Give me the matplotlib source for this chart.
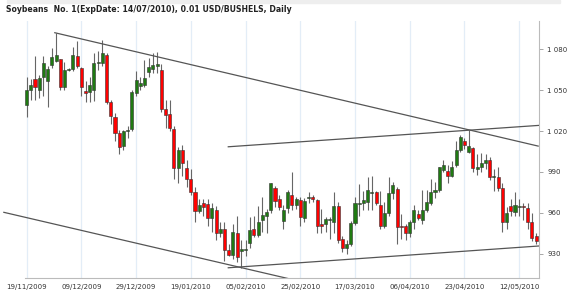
import numpy as np
import matplotlib
matplotlib.use("Agg")
import matplotlib.pyplot as plt
from matplotlib.patches import Rectangle

# daily OHLC, Soybeans No. 1, 19/11/2009 .. 18/05/2010
opens = [1039.4, 1050, 1058, 1050, 1059.5, 1056.7, 1068.5, 1071.6, 1072.7, 1052,
         1064.8, 1065.3, 1075, 1066, 1049.4, 1048.9, 1050, 1069.7, 1070.2, 1075.8,
         1041.5, 1030, 1018.6, 1008.8, 1019.8, 1021.7, 1048, 1053, 1054, 1063.3,
         1065.5, 1067.7, 1064.8, 1036, 1032.4, 1021.3, 992.8, 1006, 992.7, 984.6,
         975.5, 961.3, 967, 966.3, 956, 962, 945, 948.5, 932.7, 929,
         945.4, 932, 932.5, 938.1, 947.9, 943.7, 954.7, 957.7, 962, 978,
         970, 954.2, 963.3, 973, 965.7, 969.4, 956, 970.7, 971.8, 969.4,
         951.6, 951.6, 954.7, 953.5, 965, 940.6, 934, 937.2, 952.7, 966.3,
         967, 967.7, 974.3, 975.5, 965.7, 950.3, 959.7, 974.3, 977.5, 950.3,
         950.3, 945, 953.5, 959, 954.7, 962, 967, 975.5, 976.7, 991.4,
         990.9, 987, 995, 1006, 1012.5, 1005, 1007.4, 992, 994, 996.3,
         998.8, 986, 986, 978, 953.5, 965, 960.8, 964.5, 964.5, 963.3,
         953.5, 942.8]
highs = [1060, 1058, 1075, 1061, 1075, 1068, 1081, 1092, 1073, 1071,
         1066, 1082, 1086, 1067, 1057, 1060, 1077, 1079, 1087, 1077,
         1043, 1033, 1021, 1021, 1024, 1050, 1064, 1060, 1072, 1074,
         1077, 1078, 1069, 1043, 1043, 1024, 1008, 1010, 999, 992,
         979, 970, 970, 970, 967, 965, 953, 953, 937, 952,
         958, 940, 940, 957, 958, 965, 972, 963, 982, 980,
         973, 966, 977, 990, 972, 972, 971, 975, 973, 970,
         963, 957, 957, 975, 968, 943, 940, 954, 972, 981,
         976, 986, 987, 976, 976, 968, 986, 983, 979, 959,
         952, 955, 966, 962, 977, 977, 985, 983, 994, 999,
         995, 998, 1013, 1017, 1015, 1020.8, 1008, 1003, 1004, 1003,
         1001, 992, 994, 982, 964, 970, 975, 970, 967, 967,
         960, 945]
lows = [1030, 1043, 1043, 1044, 1046, 1038, 1066, 1071, 1050, 1050,
        1064, 1064, 1066, 1046, 1041, 1041, 1042, 1065, 1068, 1040,
        1025, 1013, 1003, 1006, 1015, 1020, 1046, 1050, 1052, 1060,
        1063, 1063, 1034, 1022, 1020, 985, 982, 987, 979, 973,
        953, 960, 958, 950, 946, 940, 942, 925, 928, 926,
        924, 919.5, 928, 934, 942, 942, 946, 945, 960, 964,
        962, 948, 960, 962, 963, 950, 953, 967, 968, 945,
        945, 946, 941, 945, 938, 931, 930, 936, 951, 958,
        962, 962, 962, 966, 948, 949, 958, 970, 937, 941,
        940, 942, 948, 955, 952, 961, 966, 971, 975, 990,
        982, 986, 994, 1005, 1007, 1004, 990, 988, 990, 992,
        984, 976, 976, 946, 948, 958, 958, 958, 955, 948,
        939, 937]
closes = [1050.4, 1053.8, 1052.6, 1058.7, 1069.7, 1065.5, 1074.6, 1075.8, 1052.1, 1064.8,
          1065.5, 1075.8, 1067.7, 1052, 1047.7, 1053.8, 1070.2, 1070.9, 1077, 1041.5,
          1031, 1018.8, 1008.3, 1019.8, 1020.5, 1048.7, 1057.7, 1055, 1059, 1067,
          1068.5, 1069, 1036, 1031.8, 1022.5, 993.1, 1006, 996.3, 984.6, 975,
          961.3, 965.7, 964.5, 956, 963.8, 945.4, 948.5, 932.7, 929, 946,
          927.8, 933.2, 933, 947.4, 943.7, 953.5, 958.4, 960.8, 981.6, 968.9,
          964.5, 962, 975.5, 965.7, 970, 956.7, 968.9, 971.8, 970, 950.3,
          950.6, 955.2, 955.2, 965, 940, 934, 937.2, 952.7, 967, 967.5,
          969.4, 976.7, 975.5, 967, 950.3, 959.7, 974.3, 980.4, 949.8, 949.4,
          945.4, 953.5, 962, 956, 962, 968.2, 975.5, 976.7, 993.4, 995,
          987, 993.9, 1006, 1015.4, 1010, 1009, 993, 993.4, 996.3, 998.8,
          986.5, 987, 978, 953.5, 959.7, 961.3, 965.7, 965, 964, 953.5,
          941.3, 939.6]

tick_labels = ["19/11/2009", "09/12/2009", "29/12/2009", "19/01/2010", "05/02/2010",
               "25/02/2010", "17/03/2010", "06/04/2010", "23/04/2010", "12/05/2010"]
y_ticks = [930, 960, 990, 1020, 1050, 1080]

# trend lines as (bar index, price) end points
trend_lines = [
    ((6.7, 1092.2), (121.5, 1009.0)),
    ((47.9, 1008.5), (121.7, 1024.2)),
    ((-5.4, 960.4), (66.0, 909.0)),
    ((47.9, 919.7), (121.7, 935.7)),
]

o = np.array(opens)
h = np.array(highs)
l = np.array(lows)
c = np.array(closes)
x = np.arange(len(o))
up = c >= o

fig = plt.figure(figsize=(5.7, 2.96), dpi=100)
ax = fig.add_axes([3 / 570, 1 - 278 / 296, 536 / 570, 257 / 296])
ax.set_xlim(-5.6, 121.7)
ax.set_ylim(912.2, 1100.8)

# vertical grid
ticks_x = np.arange(0, len(o), 13)[:len(tick_labels)]
for tx in ticks_x:
    ax.axvline(tx, color="#e3edf7", lw=0.9, zorder=0)

# wicks
ax.vlines(x, l, h, color="#666666", lw=0.8, zorder=2)

# bodies
bottom = np.minimum(o, c)
height = np.maximum(np.abs(c - o), 0.7)
colors = np.where(up, "#1f7a12", "#ff0000")
ax.bar(x, height, bottom=bottom, width=0.72, color=colors,
       edgecolor="#333333", linewidth=0.4, zorder=3)

for (x0, y0), (x1, y1) in trend_lines:
    ax.plot([x0, x1], [y0, y1], color="#555555", lw=0.9, zorder=4)

ax.set_xticks(ticks_x)
ax.set_xticklabels(tick_labels, fontsize=5, color="#333333")
ax.tick_params(axis="x", length=0, pad=4)
ax.yaxis.tick_right()
ax.set_yticks(y_ticks)
ax.set_yticklabels([f"{v:,}".replace(",", " ") for v in y_ticks],
                   fontsize=5, color="#333333")
ax.tick_params(axis="y", length=3, width=0.6, color="#999999", pad=3)

for side in ["top", "left"]:
    ax.spines[side].set_visible(False)
ax.spines["right"].set_color("#bbbbbb")
ax.spines["right"].set_linewidth(0.8)
ax.spines["bottom"].set_color("#bbbbbb")
ax.spines["bottom"].set_linewidth(0.8)
ax.spines["bottom"].set_bounds(-0.4, 121.7)

# header strip + title
fig.patches.append(Rectangle((7 / 570, 1 - 3 / 296), 553 / 570, 3 / 296,
                             transform=fig.transFigure, color="#eeeeee", zorder=0))
fig.text(6 / 570, 1 - 10 / 296,
         "Soybeans  No. 1(ExpDate: 14/07/2010), 0.01 USD/BUSHELS, Daily",
         fontsize=5.6, fontweight="bold", color="#222222", va="center", ha="left")

fig.savefig("out.png", dpi=100)
